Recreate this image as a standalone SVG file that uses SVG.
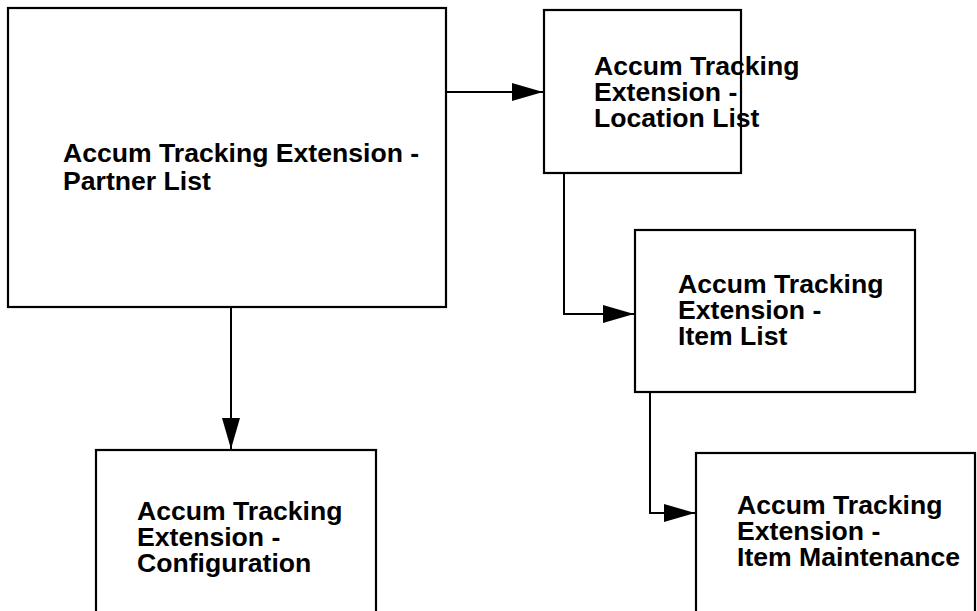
<svg xmlns="http://www.w3.org/2000/svg" width="977" height="611" viewBox="0 0 977 611">
<style>
.box{fill:#fff;stroke:#000;stroke-width:2.2}
.lbl{font-family:"Liberation Sans",Arial,sans-serif;font-weight:bold;font-size:26.6px;fill:#000}
.conn{fill:none;stroke:#000;stroke-width:2}
</style>
<defs>
<marker id="arr" markerUnits="userSpaceOnUse" markerWidth="32" markerHeight="18" refX="31" refY="9" orient="auto">
<path d="M0,0 L31,9 L0,18 Z" fill="#000"/>
</marker>
</defs>
<g id="partner-list">
<rect class="box" x="8" y="8" width="438" height="299"/>
<text class="lbl" x="63" y="162"><tspan x="63">Accum Tracking Extension -</tspan><tspan x="63" dy="28">Partner List</tspan></text>
</g>
<g id="location-list">
<rect class="box" x="544" y="10" width="197" height="163"/>
<text class="lbl" x="594" y="75"><tspan x="594">Accum Tracking</tspan><tspan x="594" dy="26">Extension -</tspan><tspan x="594" dy="26">Location List</tspan></text>
</g>
<g id="item-list">
<rect class="box" x="635" y="230" width="280" height="162"/>
<text class="lbl" x="678" y="293"><tspan x="678">Accum Tracking</tspan><tspan x="678" dy="26">Extension -</tspan><tspan x="678" dy="26">Item List</tspan></text>
</g>
<g id="configuration">
<rect class="box" x="96" y="450" width="280" height="200"/>
<text class="lbl" x="137" y="520"><tspan x="137">Accum Tracking</tspan><tspan x="137" dy="26">Extension -</tspan><tspan x="137" dy="26">Configuration</tspan></text>
</g>
<g id="item-maintenance">
<rect class="box" x="696" y="453" width="279" height="200"/>
<text class="lbl" x="737" y="514"><tspan x="737">Accum Tracking</tspan><tspan x="737" dy="26">Extension -</tspan><tspan x="737" dy="26">Item Maintenance</tspan></text>
</g>
<g id="connectors">
<path class="conn" d="M446,92 H543" marker-end="url(#arr)"/>
<path class="conn" d="M231,307 V449" marker-end="url(#arr)"/>
<path class="conn" d="M564,173 V314 H634" marker-end="url(#arr)"/>
<path class="conn" d="M650,392 V513 H695" marker-end="url(#arr)"/>
</g>
</svg>
